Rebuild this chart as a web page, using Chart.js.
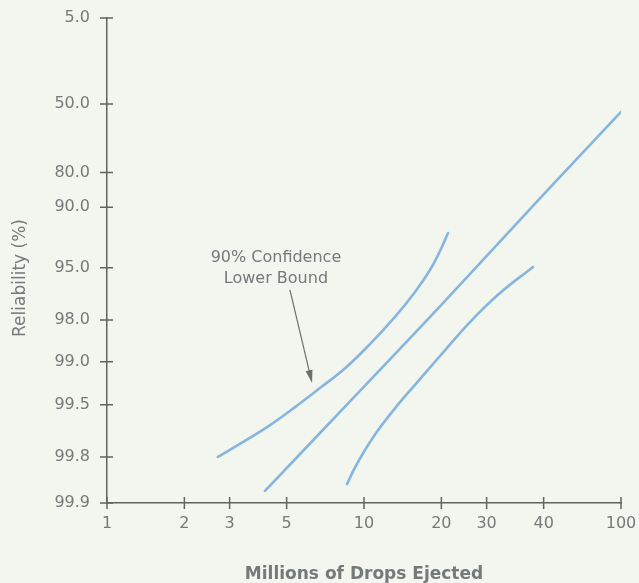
<!DOCTYPE html>
<html>
<head>
<meta charset="utf-8">
<script src="https://cdn.jsdelivr.net/npm/chart.js@4"></script>
<style>
  html, body { margin: 0; padding: 0; background: #f3f5ef; }
  canvas { display: block; }
</style>
</head>
<body>
<canvas id="reliabilityChart" width="639" height="583"></canvas>
<script>
// x axis: millions of drops (log scale). The printed "40" sits where 50 belongs.
const xTickValues = [1, 2, 3, 5, 10, 20, 30, 50, 100];
const xTickLabels = ['1', '2', '3', '5', '10', '20', '30', '40', '100'];

// y axis: reliability (%) on probability paper, bottom to top
const yTickValues = [99.9, 99.8, 99.5, 99.0, 98.0, 95.0, 90.0, 80.0, 50.0, 5.0];
const yTickLabels = ['99.9', '99.8', '99.5', '99.0', '98.0', '95.0', '90.0', '80.0', '50.0', '5.0'];
// spacing of the printed grid lines (divisions from the bottom)
const yTickSpacing = [0, 0.76, 1.62, 2.33, 3.02, 3.88, 4.88, 5.45, 6.58, 8.0];

// fitted line
const fitDrops = [4.12, 10, 20, 50, 100];
const fitRel = [99.88, 99.33, 97.39, 87.03, 54.4];

// 90% confidence lower bound (left curve)
const lowerDrops = [2.70, 3.44, 4.31, 5.39, 6.74, 8.44, 10.55, 13.20, 15.79, 18.06, 19.76, 21.23];
const lowerRel = [99.80, 99.735, 99.65, 99.52, 99.345, 99.10, 98.66, 97.89, 96.73, 95.19, 93.93, 92.54];

// upper bound (right curve)
const upperDrops = [8.59, 9.22, 10.09, 11.34, 13.20, 15.79, 19.76, 25.85, 33.82, 45.46];
const upperRel = [99.867, 99.83, 99.774, 99.68, 99.53, 99.31, 98.90, 98.07, 96.79, 94.95];

// annotation arrow: tail and tip (drops, reliability)
const arrowTail = [5.15, 96.6];
const arrowTip = [6.28, 99.29];

const fontFamily = "'DejaVu Sans', sans-serif";
const textColor = '#737a79';
const axisColor = '#5f6462';
const lineColor = '#86b6de';

// reliability -> position on the probability axis (Weibull spacing between printed lines)
function relPos(r) {
    const w = v => Math.log(-Math.log(v / 100));
    let i = 0;
    while (i < yTickValues.length - 2 && r < yTickValues[i + 1]) i++;
    const t = (w(r) - w(yTickValues[i])) / (w(yTickValues[i + 1]) - w(yTickValues[i]));
    return yTickSpacing[i] + t * (yTickSpacing[i + 1] - yTickSpacing[i]);
}

function toPoints(xs, rs) {
    return xs.map((x, i) => ({ x: x, y: relPos(rs[i]) }));
}

const axisMarks = {
    id: 'axisMarks',
    afterDraw(chart) {
        const ctx = chart.ctx;
        const x = chart.scales.x;
        const y = chart.scales.y;
        const area = chart.chartArea;
        ctx.save();
        ctx.strokeStyle = axisColor;
        ctx.lineWidth = 1.5;
        ctx.beginPath();
        y.ticks.forEach(t => {
            const py = y.getPixelForValue(t.value);
            ctx.moveTo(area.left - 7, py);
            ctx.lineTo(area.left + 6, py);
        });
        x.ticks.forEach(t => {
            const px = x.getPixelForValue(t.value);
            ctx.moveTo(px, area.bottom - 6);
            ctx.lineTo(px, area.bottom + 6);
        });
        ctx.stroke();

        // y axis title
        ctx.fillStyle = textColor;
        ctx.font = '17px ' + fontFamily;
        ctx.textAlign = 'center';
        ctx.textBaseline = 'middle';
        ctx.save();
        ctx.translate(21, 278);
        ctx.rotate(-Math.PI / 2);
        ctx.fillText('Reliability (%)', 0, 0);
        ctx.restore();

        // annotation and arrow
        const tx = x.getPixelForValue(arrowTail[0]);
        const ty = y.getPixelForValue(relPos(arrowTail[1]));
        const hx = x.getPixelForValue(arrowTip[0]);
        const hy = y.getPixelForValue(relPos(arrowTip[1]));
        ctx.font = '16px ' + fontFamily;
        ctx.fillText('90% Confidence', tx - 14, ty - 32);
        ctx.fillText('Lower Bound', tx - 14, ty - 11);

        ctx.strokeStyle = '#6b706f';
        ctx.lineWidth = 1.2;
        const ang = Math.atan2(hy - ty, hx - tx);
        ctx.beginPath();
        ctx.moveTo(tx, ty);
        ctx.lineTo(hx - 10 * Math.cos(ang), hy - 10 * Math.sin(ang));
        ctx.stroke();
        ctx.fillStyle = '#6b706f';
        ctx.beginPath();
        ctx.moveTo(hx, hy);
        ctx.lineTo(hx - 13 * Math.cos(ang) + 3.5 * Math.sin(ang), hy - 13 * Math.sin(ang) - 3.5 * Math.cos(ang));
        ctx.lineTo(hx - 13 * Math.cos(ang) - 3.5 * Math.sin(ang), hy - 13 * Math.sin(ang) + 3.5 * Math.cos(ang));
        ctx.closePath();
        ctx.fill();
        ctx.restore();
    }
};

function lineSet(label, xs, rs) {
    return {
        label: label,
        data: toPoints(xs, rs),
        showLine: true,
        borderColor: lineColor,
        borderWidth: 2.6,
        borderCapStyle: 'round',
        pointRadius: 0,
        tension: 0.4,
        fill: false
    };
}

new Chart(document.getElementById('reliabilityChart').getContext('2d'), {
    type: 'scatter',
    data: {
        datasets: [
            lineSet('Fit', fitDrops, fitRel),
            lineSet('90% Confidence Lower Bound', lowerDrops, lowerRel),
            lineSet('Upper Bound', upperDrops, upperRel)
        ]
    },
    options: {
        responsive: false,
        animation: false,
        layout: { padding: { top: 18, right: 18, bottom: 0, left: 0 } },
        plugins: {
            legend: { display: false },
            tooltip: { enabled: false }
        },
        scales: {
            x: {
                type: 'logarithmic',
                min: 1,
                max: 100,
                afterBuildTicks: s => { s.ticks = xTickValues.map(v => ({ value: v })); },
                afterFit: s => { s.height = 80; s.paddingLeft = 0; s.paddingRight = 0; },
                grid: { display: false, drawTicks: false },
                border: { display: true, color: axisColor, width: 1.5 },
                ticks: {
                    autoSkip: false,
                    maxRotation: 0,
                    padding: 11,
                    color: textColor,
                    font: { family: fontFamily, size: 16 },
                    callback: (v, i) => xTickLabels[i]
                },
                title: {
                    display: true,
                    text: 'Millions of Drops Ejected',
                    color: textColor,
                    font: { family: fontFamily, size: 17, weight: 'bold' },
                    padding: { top: 0, bottom: -2 }
                }
            },
            y: {
                type: 'linear',
                min: 0,
                max: yTickSpacing[yTickSpacing.length - 1],
                afterBuildTicks: s => { s.ticks = yTickSpacing.map(v => ({ value: v })); },
                afterFit: s => { s.width = 107; s.paddingTop = 0; s.paddingBottom = 0; },
                grid: { display: false, drawTicks: false },
                border: { display: true, color: axisColor, width: 1.5 },
                ticks: {
                    autoSkip: false,
                    padding: 17,
                    color: textColor,
                    font: { family: fontFamily, size: 16 },
                    callback: (v, i) => yTickLabels[i]
                }
            }
        }
    },
    plugins: [axisMarks]
});
</script>
</body>
</html>
